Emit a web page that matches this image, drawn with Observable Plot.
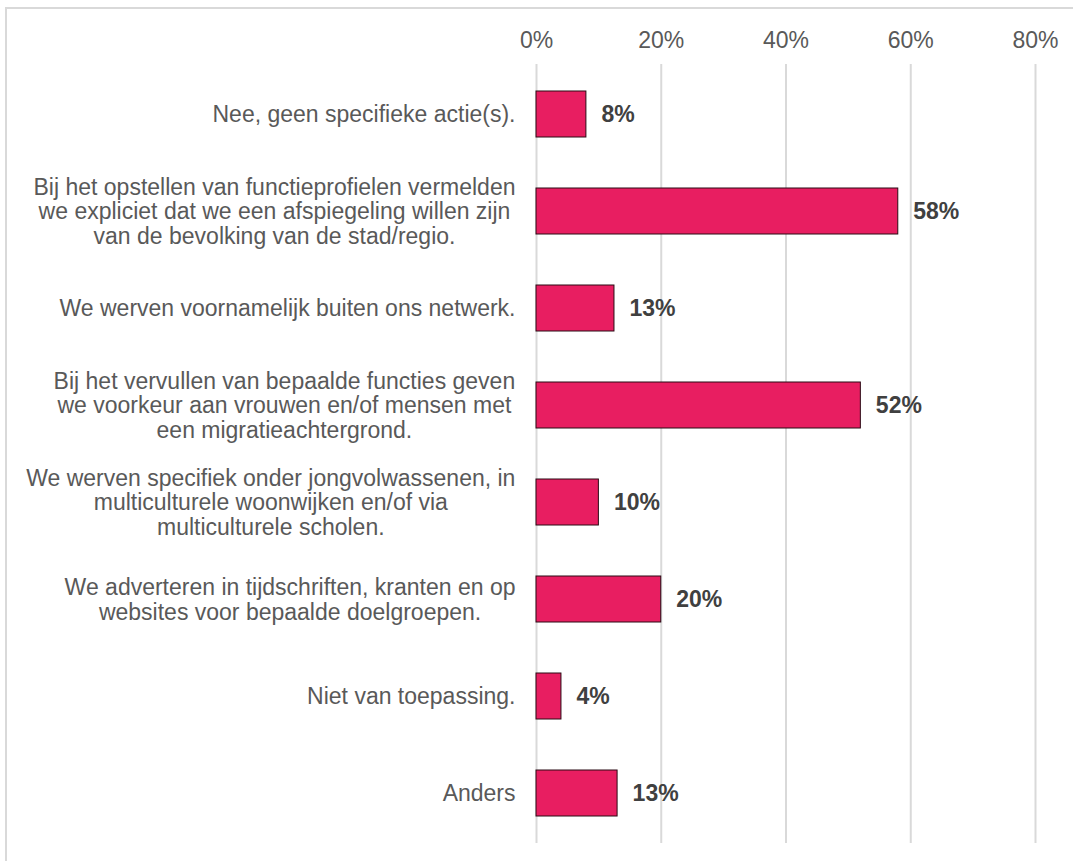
<!DOCTYPE html>
<html>
<head>
<meta charset="utf-8">
<script src="https://cdn.jsdelivr.net/npm/d3@7"></script>
<script src="https://cdn.jsdelivr.net/npm/@observablehq/plot@0.6"></script>
<style>
  html, body { margin: 0; padding: 0; background: #fff; }
  #wrap { position: relative; width: 1073px; height: 861px; overflow: hidden; }
  #border { position: absolute; left: 5px; top: 7px; width: 1100px; height: 900px; border-left: 2px solid #d9d9d9; border-top: 2px solid #d9d9d9; box-sizing: border-box; }
  #chart { position: absolute; left: 0; top: 0; }
</style>
</head>
<body>
<div id="wrap"><div id="border"></div><div id="chart"></div></div>
<script>
const categories = [
  "Nee, geen specifieke actie(s).",
  "Bij het opstellen van functieprofielen vermelden\nwe expliciet dat we een afspiegeling willen zijn\nvan de bevolking van de stad/regio.",
  "We werven voornamelijk buiten ons netwerk.",
  "Bij het vervullen van bepaalde functies geven\nwe voorkeur aan vrouwen en/of mensen met\neen migratieachtergrond.",
  "We werven specifiek onder jongvolwassenen, in\nmulticulturele woonwijken en/of via\nmulticulturele scholen.",
  "We adverteren in tijdschriften, kranten en op\nwebsites voor bepaalde doelgroepen.",
  "Niet van toepassing.",
  "Anders"
];
const values = [0.08, 0.58, 0.125, 0.52, 0.10, 0.20, 0.04, 0.13];
const xTicks = [0, 0.2, 0.4, 0.6, 0.8];

const data = categories.map((label, i) => ({label, value: values[i]}));
const pct = d => Math.round(d * 100) + "%";

const chart = Plot.plot({
  width: 1073,
  height: 861,
  marginTop: 64,
  marginBottom: 18,
  marginLeft: 536,
  marginRight: 38,
  style: {fontFamily: "'Liberation Sans', Arial, sans-serif", fontSize: "23px", background: "transparent"},
  x: {domain: [0, 0.8]},
  y: {domain: categories, paddingInner: 0.53, paddingOuter: 0.265},
  marks: [
    Plot.gridX(xTicks, {stroke: "#d9d9d9", strokeWidth: 2, strokeOpacity: 1}),
    Plot.axisX({anchor: "top", ticks: xTicks, tickFormat: pct, tickSize: 0, tickPadding: 17, label: null, fontSize: 23, fill: "#595959"}),
    Plot.axisY({tickSize: 0, tickPadding: 21, label: null, lineHeight: 1.065, fontSize: 23, fill: "#595959"}),
    Plot.barX(data, {x: "value", y: "label", fill: "#E81E61", stroke: "#2b0a14", strokeWidth: 1}),
    Plot.text(data, {x: "value", y: "label", text: d => pct(d.value), textAnchor: "start", dx: 15, fontSize: 23, fontWeight: "bold", fill: "#404040"})
  ]
});
document.getElementById("chart").appendChild(chart);

// center multi-line category labels within their right-aligned block
d3.select(chart).selectAll('g[aria-label="y-axis tick label"] text').each(function() {
  const w = this.getBBox().width;
  const t = d3.select(this);
  t.attr("text-anchor", "middle");
  const spans = t.selectAll("tspan");
  if (spans.size() > 0) spans.attr("x", -w / 2);
  else t.attr("x", -w / 2);
});
</script>
</body>
</html>
